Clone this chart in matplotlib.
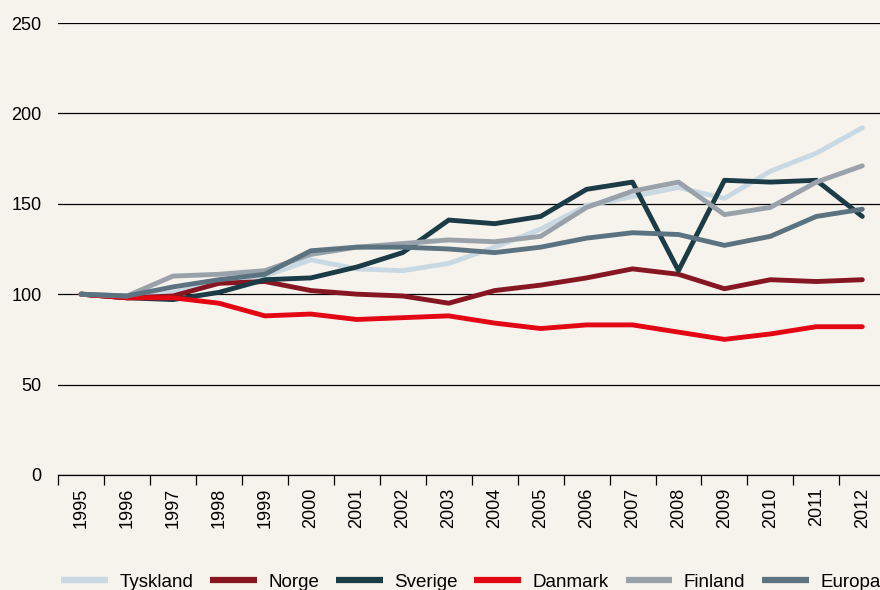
import numpy as np
import matplotlib.pyplot as plt

plt.rcParams['font.family'] = ['Liberation Sans', 'DejaVu Sans']

years = [str(y) for y in range(1995, 2013)]
tyskland = [100, 98, 101, 106, 110, 119, 114, 113, 117, 126, 136, 149, 154, 159, 153, 168, 178, 192]
norge = [100, 98, 99, 106, 107, 102, 100, 99, 95, 102, 105, 109, 114, 111, 103, 108, 107, 108]
sverige = [100, 98, 97, 101, 108, 109, 115, 123, 141, 139, 143, 158, 162, 113, 163, 162, 163, 143]
danmark = [100, 98, 98, 95, 88, 89, 86, 87, 88, 84, 81, 83, 83, 79, 75, 78, 82, 82]
finland = [100, 99, 110, 111, 113, 122, 126, 128, 130, 129, 132, 148, 157, 162, 144, 148, 162, 171]
europa = [100, 99, 104, 108, 111, 124, 126, 126, 125, 123, 126, 131, 134, 133, 127, 132, 143, 147]

series = [("Tyskland", tyskland, "#c9d9e3"),
          ("Norge", norge, "#861622"),
          ("Sverige", sverige, "#1b3c46"),
          ("Danmark", danmark, "#e30613"),
          ("Finland", finland, "#99a2aa"),
          ("Europa", europa, "#5b7381")]

bg = "#f6f2ec"
fig = plt.figure(figsize=(8.8, 5.9), dpi=100, facecolor=bg)
ax = fig.add_axes([0.066, 0.195, 0.94, 0.766], facecolor=bg)

x = np.arange(len(years))
for name, vals, col in series:
    ax.plot(x, vals, color=col, linewidth=3.5, solid_capstyle='round', label=name)

ax.set_ylim(0, 250)
ax.set_xlim(-0.5, len(years) - 0.5)
ax.set_yticks(np.arange(0, 251, 50))
ax.yaxis.grid(True, color='black', linewidth=0.9)
ax.set_axisbelow(True)
for s in ['left', 'right', 'top']:
    ax.spines[s].set_visible(False)
ax.spines['bottom'].set_linewidth(0.9)

ax.set_xticks(x)
ax.set_xticklabels(years, rotation=90, fontsize=13)
ax.set_xticks(np.arange(-0.5, len(years), 1.0), minor=True)
ax.tick_params(axis='x', which='major', length=0, pad=9)
ax.tick_params(axis='x', which='minor', length=7, width=0.9, direction='out')
ax.tick_params(axis='y', length=0, labelsize=13, pad=12)

leg = fig.legend(loc='center', bbox_to_anchor=(0.535, 0.013), ncol=6, frameon=False,
                 fontsize=13.5, handlelength=2.5, columnspacing=0.9, handletextpad=0.6)
for ln in leg.get_lines():
    ln.set_linewidth(4.5)
    ln.set_solid_capstyle('butt')

fig.savefig("out.png", dpi=100, facecolor=bg)
